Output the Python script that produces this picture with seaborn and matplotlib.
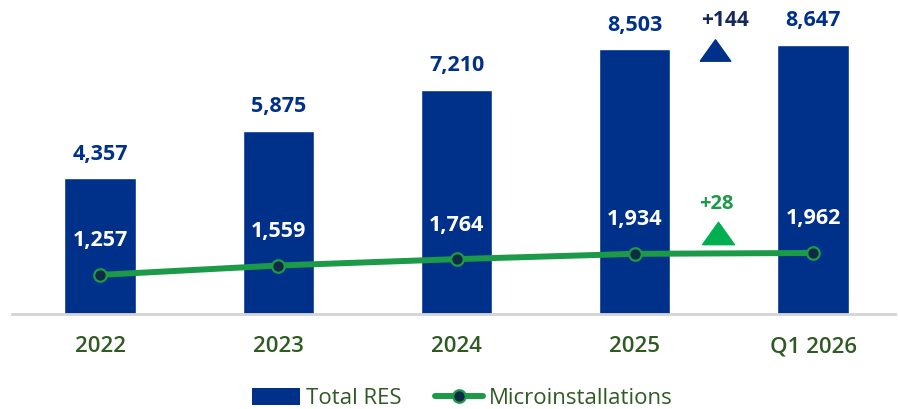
import pandas as pd
import seaborn as sns
import matplotlib.pyplot as plt
from matplotlib.patches import Patch
from matplotlib.lines import Line2D

periods = ["2022", "2023", "2024", "2025", "Q1 2026"]
total_res = [4357, 5875, 7210, 8503, 8647]
micro = [1257, 1559, 1764, 1934, 1962]

navy = "#00318a"
green = "#1c9a47"
bright_green = "#00b050"
dark_dot = "#0f2a44"
label_green = "#2f5a22"

df = pd.DataFrame({"period": periods, "total": total_res, "micro": micro})

sns.set_theme(style="white")
plt.rcParams["font.family"] = ["Open Sans", "DejaVu Sans"]

fig = plt.figure(figsize=(8.98, 4.09), dpi=100)
ax = fig.add_axes([12 / 898, 95 / 409, 883 / 898, 314 / 409])

sns.barplot(data=df, x="period", y="total", color=navy, saturation=1,
            width=0.40, ax=ax)
sns.pointplot(data=df, x="period", y="micro", color=green, markers="o",
              linewidth=4.3, markersize=9, markerfacecolor=dark_dot,
              markeredgecolor=green, markeredgewidth=1.6, ax=ax)

ax.set_xlim(-0.494, 4.46)
ax.set_ylim(0, 314 * 8647 / 269)
ax.set_xlabel("")
ax.set_ylabel("")
ax.set_yticks([])
sns.despine(ax=ax, left=True)
ax.spines["bottom"].set_color("#d4d4d4")
ax.spines["bottom"].set_linewidth(2)
ax.tick_params(axis="x", length=0, pad=16, labelsize=16, labelcolor=label_green)
for t in ax.get_xticklabels():
    t.set_fontweight("semibold")

for i, (t, m) in enumerate(zip(total_res, micro)):
    ax.annotate(f"{t:,}", (i, t), xytext=(0, 10), textcoords="offset points",
                ha="center", va="bottom", fontsize=15.5, fontweight="bold",
                color=navy)
    ax.annotate(f"{m:,}", (i, m), xytext=(0, 17), textcoords="offset points",
                ha="center", va="bottom", fontsize=15.5, fontweight="bold",
                color="white")

# change markers between last two periods (flat triangles)
tri = [(-1, -0.7), (1, -0.7), (0, 0.7), (-1, -0.7)]
d_total = total_res[-1] - total_res[-2]
d_micro = micro[-1] - micro[-2]
ax.plot([3.448], [8490], marker=tri, markersize=22, color=navy, linestyle="none")
ax.text(3.505, 9430, f"+{d_total}", ha="center", va="center", fontsize=15,
        fontweight="bold", color="#16285c")
ax.plot([3.466], [2600], marker=tri, markersize=23, color=bright_green,
        linestyle="none")
ax.text(3.458, 3530, f"+{d_micro}", ha="center", va="center", fontsize=14.5,
        fontweight="bold", color=green)

handles = [
    Patch(facecolor=navy, edgecolor="none", label="Total RES"),
    Line2D([0], [0], color=green, linewidth=4.3, marker="o", markersize=9,
           markerfacecolor=dark_dot, markeredgecolor=green,
           markeredgewidth=1.6, label="Microinstallations"),
]
leg = fig.legend(handles=handles, loc="center", bbox_to_anchor=(0.515, 0.025),
                 ncol=2, frameon=False, fontsize=16, labelcolor=label_green,
                 handlelength=2.16, handleheight=0.8, handletextpad=0.27,
                 columnspacing=1.5)
for t in leg.get_texts():
    t.set_fontweight("medium")

fig.savefig("out.png", dpi=100)
